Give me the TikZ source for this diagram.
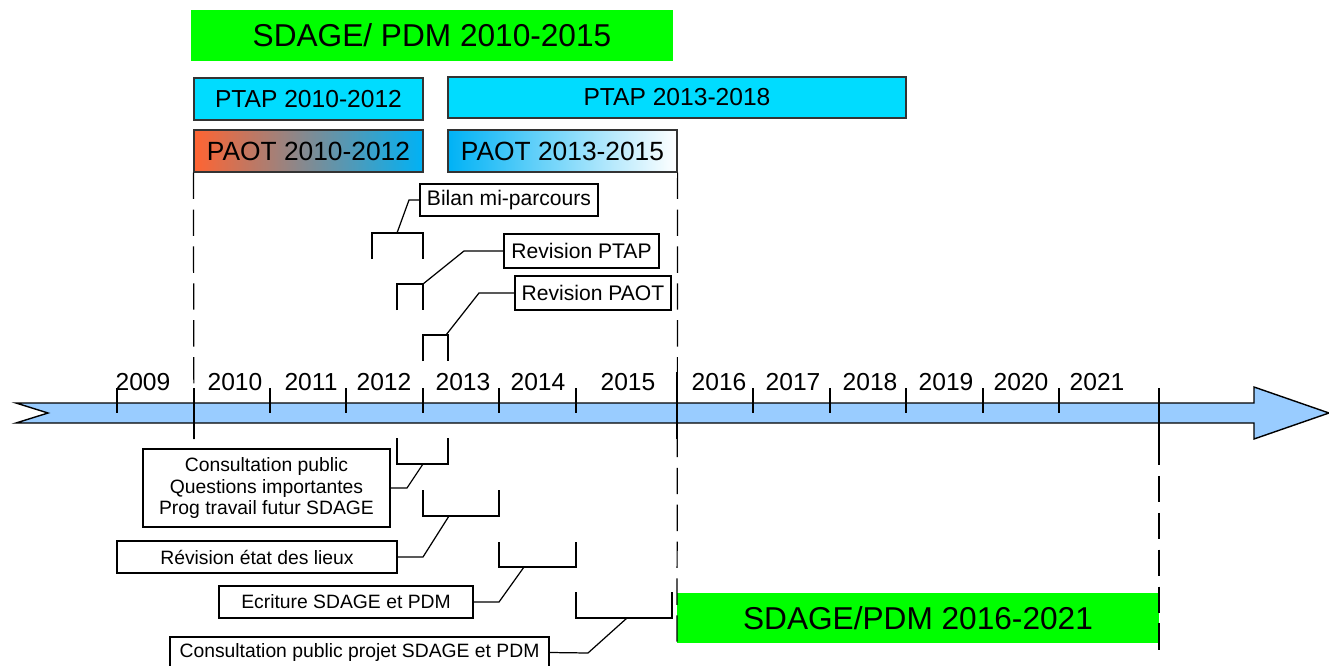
\documentclass[tikz,border=0pt]{standalone}
\usepackage{fontspec}
\setmainfont{Liberation Sans}
\usepackage{tikz}
\usetikzlibrary{
  positioning,
  calc
}
\definecolor{sdagegreen}{RGB}{0,255,0}
\definecolor{ptapcyan}{RGB}{0,220,255}
\definecolor{axisblue}{RGB}{153,204,255}
\definecolor{paotorange}{RGB}{255,100,50}
\definecolor{paotblue}{RGB}{0,178,245}
\newcommand{\unitpx}{0.02cm}

\begin{document}
\begin{tikzpicture}[x=0.02cm, y=-0.02cm]
			\tikzset{
			phase/.style={
					rectangle, inner sep=0pt, align=center,
				},
			sdage/.style={
					phase, fill=sdagegreen, font=\fontsize{18}{20}\selectfont,
				},
			ptap/.style={
					phase, fill=ptapcyan, draw=black!80, line width=0.7pt,
					font=\fontsize{14}{16}\selectfont,
				},
			paot/.style={
					phase, draw=black!80, line width=0.7pt,
					font=\fontsize{15}{17}\selectfont,
				},
			event/.style={
					rectangle, draw, line width=0.6pt, inner sep=0pt, align=center,
				},
			year/.style={anchor=base, inner sep=0pt, font=\fontsize{14}{16}\selectfont},
			tick/.style={line width=0.7pt},
			guide/.style={line width=0.7pt, dash pattern=on 15pt off 6pt},
			bracket/.style={line width=0.7pt},
			}
			\useasboundingbox (0,0) rectangle (1329,666);

			% timeline arrow
			\draw[fill=axisblue, line width=0.8pt] (16,403) -- (1254,403) -- (1254,387) -- (1329,413)
				-- (1254,439) -- (1254,423) -- (16,423) -- (48,413) -- cycle;
			\foreach \xx in {117,270,346,423,499,576,753,830,906,983,1059}
				\draw[tick] (\xx,388) -- (\xx,413);
			\draw[tick] (194,388) -- (194,439);
			\draw[tick] (677,372) -- (677,439);
			\draw[tick] (1159,388) -- (1159,439);
			\foreach \yr/\xx in {2009/143,2010/235,2011/311,2012/384,2013/463,2014/538,2015/628,
					2016/719,2017/793,2018/870,2019/946,2020/1021,2021/1097}
				\node[year] (y\yr) at (\xx,390) {\yr};

			% plans
			\node[sdage, minimum width=482*\unitpx, minimum height=51*\unitpx] (sdageA) at (432,35.5) {SDAGE/ PDM 2010-2015};
			\node[ptap, minimum width=229*\unitpx, minimum height=42*\unitpx] (ptapA) at (308.5,99) {PTAP 2010-2012};
			\node[ptap, minimum width=458*\unitpx, minimum height=41*\unitpx] (ptapB) at (677,97.5) {PTAP 2013-2018};
			\node[paot, left color=paotorange, right color=paotblue,
				minimum width=229*\unitpx, minimum height=42*\unitpx] (paotA) at (308.5,151) {PAOT 2010-2012};
			\node[paot, left color=paotblue, right color=white,
				minimum width=229*\unitpx, minimum height=42*\unitpx] (paotB) at (562.5,151) {PAOT 2013-2015};
			\node[sdage, minimum width=482*\unitpx, minimum height=50*\unitpx] (sdageB) at (918,618) {SDAGE/PDM 2016-2021};

			% period limits
			\draw[guide] (paotA.south west) -- (194,439);
			\draw[guide] (paotB.south east) -- (677,650);
			\draw[guide] (1159,439) -- (1159,650);

			% events above the axis
			\node[event, font=\fontsize{12}{14}\selectfont, minimum width=178*\unitpx, minimum height=32*\unitpx]
				(bilan) at (509,200) {Bilan mi-parcours};
			\node[event, font=\fontsize{12}{14}\selectfont, minimum width=155*\unitpx, minimum height=34*\unitpx]
				(revptap) at (581.5,251) {Revision PTAP};
			\node[event, font=\fontsize{12}{14}\selectfont, minimum width=156*\unitpx, minimum height=34*\unitpx]
				(revpaot) at (593,293) {Revision PAOT};

			\coordinate (bilanM) at (397,233);
			\coordinate (revptapM) at (423,284);
			\coordinate (revpaotM) at (446,335);
			\draw[bracket] (372,259) |- (423,233) -- (423,259);
			\draw[bracket] (397,310) |- (423,284) -- (423,310);
			\draw[bracket] (423,361) |- (448,335) -- (448,361);
			\draw[bracket] (bilanM) -- (409,200) -- (bilan.west);
			\draw[bracket] (revptapM) -- (464,251) -- (revptap.west);
			\draw[bracket] (revpaotM) -- (479,293) -- (revpaot.west);

			% events below the axis
			\node[event, font=\fontsize{11}{12.5}\selectfont, minimum width=247*\unitpx, minimum height=78*\unitpx]
				(consult) at (266.5,488) {Consultation public\\ Questions importantes\\ Prog travail futur SDAGE};
			\node[event, font=\fontsize{11}{12.5}\selectfont, minimum width=280*\unitpx, minimum height=32*\unitpx]
				(revetat) at (257,557) {Révision état des lieux};
			\node[event, font=\fontsize{11}{12.5}\selectfont, minimum width=254*\unitpx, minimum height=32*\unitpx]
				(ecriture) at (346,602) {Ecriture SDAGE et PDM};
			\node[event, font=\fontsize{11}{12.5}\selectfont, minimum width=379*\unitpx, minimum height=31*\unitpx]
				(consproj) at (359.5,652.5) {Consultation public projet SDAGE et PDM};

			\coordinate (consultM) at (423,464);
			\coordinate (revetatM) at (449,516);
			\coordinate (ecritureM) at (524,567);
			\coordinate (consprojM) at (627,618);
			\draw[bracket] (397,438) |- (448,464) -- (448,438);
			\draw[bracket] (423,490) |- (499,516) -- (499,490);
			\draw[bracket] (499,542) |- (576,567) -- (576,542);
			\draw[bracket] (576,592) |- (672,618) -- (672,592);
			\draw[bracket] (consultM) -- (407,488) -- (consult.east);
			\draw[bracket] (revetatM) -- (423,557) -- (revetat.east);
			\draw[bracket] (ecritureM) -- (499,602) -- (ecriture.east);
			\draw[bracket] (consprojM) -- (588,653) -- (consproj.east);
		\end{tikzpicture}
\end{document}
